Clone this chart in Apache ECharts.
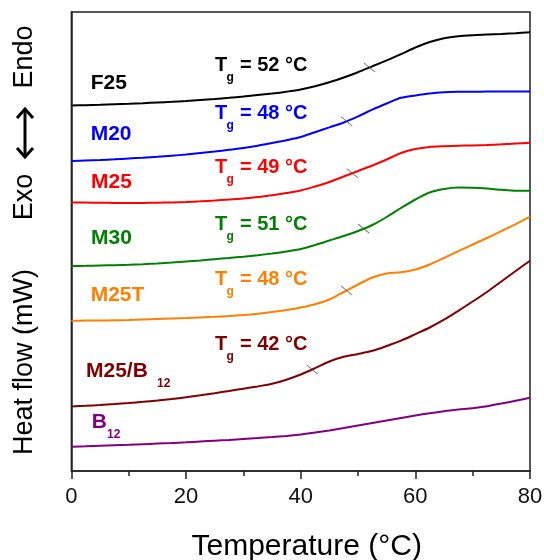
<!DOCTYPE html>
<html><head><meta charset="utf-8">
<script src="https://cdn.jsdelivr.net/npm/echarts@6/dist/echarts.min.js"></script>
<style>html,body{margin:0;padding:0;background:#fff}#c{width:544px;height:560px}</style>
</head><body><div id="c"></div><script>
// Temperature (°C) samples shared by all curves
const temps = [0,2.5,5,7.5,10,12.5,15,17.5,20,22.5,25,27.5,30,32.5,35,37.5,40,42.5,45,47.5,50,52.5,55,57.5,60,62.5,65,67.5,70,72.5,75,77.5,80];
// Heat-flow readings (arbitrary, vertically offset units)
const f25 = [365.5,365.8,366.2,366.7,367.2,367.8,368.5,369.2,370,371,372,373.2,374.5,376,377.5,379.3,381.5,384.7,388.7,393.5,398.8,404.7,410.6,416.8,423.5,429,432.8,434.8,435.8,436.4,437,437.8,438.7];
const m20 = [310,310.5,311,311.7,312.5,313.3,314.2,315.3,316.5,318,319.5,321.2,323,325.3,328,330.8,334,338.8,343.6,348.5,354.6,361.4,367.5,373.2,375.6,377.6,378.8,379.2,379.3,379.4,379.5,379.5,379.5];
const m25 = [268.5,268.4,268.2,268.1,268,268.1,268.3,268.6,269,269.7,270.5,271.4,272.5,274,275.7,277.9,280.5,284.5,289,294.5,300,305.5,311.5,318,322,324,324.8,325.3,325.6,326,326.7,327.5,328.3];
const m30 = [205,205.2,205.5,205.8,206.2,206.8,207.5,208.4,209.5,210.6,211.8,213,214.3,215.8,217.5,219.5,222,226,230.5,235,240,246,254,263,271.5,278.5,282,283.5,283.3,282.5,281.2,280.3,280.3];
const m25t = [150.3,150.4,150.5,150.7,151,151.5,152,152.5,153,153.6,154.2,155,156,157.3,159,161,163.5,166.8,171.5,179,186.5,193.5,197.5,198.8,201.5,206.5,213,219.8,226.5,233,239.8,246.8,254.3];
const m25b12 = [64.5,65.2,66,66.9,68,69.2,70.5,72,73.7,75.7,77.8,80,82.3,84.6,87.2,91.3,96.5,102.8,109.5,114.2,117,120.2,125,130.3,136.8,143.5,151.3,160.2,169.5,179,189.5,200,210.3];
const b12 = [24.3,24.7,25.2,25.7,26.2,26.8,27.4,28,28.7,29.5,30.3,31.1,32,32.9,33.9,35.1,36.6,38.4,40.5,42.9,45.5,48,50.5,53,55.5,57.8,59.8,61.4,62.8,64.8,67.4,70.3,73.3];

const names = ['F25','M20','M25','M30','M25T','M25/B12','B12'];
const colors = ['#000000','#0000ff','#ff0000','#008000','#ff8000','#800000','#800080'];
const tgValues = [52,48,49,51,48,42,null];
const xTicks = [0,20,40,60,80];

const curves = [f25,m20,m25,m30,m25t,m25b12,b12];

function interp(Y, t){
  for (let i=0;i<temps.length-1;i++){
    if (t>=temps[i] && t<=temps[i+1]){ const f=(t-temps[i])/(temps[i+1]-temps[i]); return Y[i]+f*(Y[i+1]-Y[i]); }
  }
  return Y[Y.length-1];
}

const FONT = 'Arial, "Liberation Sans", sans-serif';
const series = curves.map((Y,i)=>({
  name: names[i], type:'line', showSymbol:false, smooth:0.3,
  lineStyle:{color:colors[i], width:2}, itemStyle:{color:colors[i]},
  data: temps.map((t,j)=>[t,Y[j]]), z:2
}));
const tickData = [];
tgValues.forEach((tg,i)=>{ if(tg!==null) tickData.push([tg, interp(curves[i],tg)]); });
series.push({
  type:'scatter', data:tickData, symbol:'path://M0 0 L10 8', symbolSize:[11,9],
  itemStyle:{color:'rgba(0,0,0,0)', borderColor:'#555', borderWidth:1}, z:3, silent:true
});

function lab(x,y,main,sub,subDx,color,rest,restDx,size){
  size = size || 21;
  const ch=[{type:'text', x:0, y:0, style:{text:main, font:'bold '+size+'px '+FONT, fill:color, verticalAlign:'middle'}}];
  if(sub) ch.push({type:'text', x:subDx, y:12.5, style:{text:sub, font:'bold 12px '+FONT, fill:color, verticalAlign:'middle'}});
  if(rest) ch.push({type:'text', x:restDx, y:0, style:{text:rest, font:'bold '+size+'px '+FONT, fill:color, verticalAlign:'middle'}});
  return {type:'group', x:x, y:y, children:ch};
}
const arrowStyle = {stroke:'#000', lineWidth:3, fill:null, lineJoin:'miter'};
const graphics = [
  lab(90.7,82.8,'F25',null,0,colors[0]),
  lab(90.7,134.3,'M20',null,0,colors[1]),
  lab(91,182,'M25',null,0,colors[2]),
  lab(91,238,'M30',null,0,colors[3]),
  lab(90.7,295,'M25T',null,0,colors[4]),
  lab(86,371.5,'M25/B','12',71,colors[5]),
  lab(91.7,422.5,'B','12',15.3,colors[6]),
  lab(215,65,'T','g',11.5,colors[0],'= 52 °C',25,20),
  lab(215,113,'T','g',11.5,colors[1],'= 48 °C',25,20),
  lab(215,167.5,'T','g',11.5,colors[2],'= 49 °C',25,20),
  lab(215,224,'T','g',11.5,colors[3],'= 51 °C',25,20),
  lab(215,279,'T','g',11.5,colors[4],'= 48 °C',25,20),
  lab(215,344,'T','g',11.5,colors[5],'= 42 °C',25,20),
  {type:'text', x:25, y:362, rotation:Math.PI/2, style:{text:'Heat flow (mW)', font:'27px '+FONT, fill:'#000', align:'center', verticalAlign:'middle'}},
  {type:'text', x:25, y:57, rotation:Math.PI/2, style:{text:'Endo', font:'27px '+FONT, fill:'#000', align:'center', verticalAlign:'middle'}},
  {type:'group', x:25, y:133, children:[
    {type:'line', shape:{x1:0, y1:-23, x2:0, y2:23}, style:arrowStyle},
    {type:'polyline', shape:{points:[[-8,-15],[0,-24],[8,-15]]}, style:arrowStyle},
    {type:'polyline', shape:{points:[[-8,15],[0,24],[8,15]]}, style:arrowStyle}
  ]},
  {type:'text', x:25, y:197, rotation:Math.PI/2, style:{text:'Exo', font:'27px '+FONT, fill:'#000', align:'center', verticalAlign:'middle'}}
];

const chart = echarts.init(document.getElementById('c'), null, {renderer:'canvas'});
chart.setOption({
  animation:false,
  backgroundColor:'#fff',
  grid:{left:71.4, right:14, top:12, bottom:89, outerBoundsMode:'none', containLabel:false,
        show:true, borderColor:'#222', borderWidth:1.5, backgroundColor:'transparent'},
  xAxis:{
    type:'value', min:xTicks[0], max:xTicks[xTicks.length-1], interval:20,
    name:'Temperature (°C)', nameLocation:'middle', nameGap:61,
    nameTextStyle:{fontSize:30, fontFamily:FONT, color:'#000', padding:[0,0,0,12]},
    axisLine:{show:true, lineStyle:{color:'#222', width:1.5}},
    axisTick:{show:true, length:8, lineStyle:{color:'#222', width:1.5}},
    minorTick:{show:true, splitNumber:2, length:5, lineStyle:{color:'#222', width:1.5}},
    axisLabel:{fontSize:22, fontFamily:FONT, color:'#111', margin:15},
    splitLine:{show:false}
  },
  yAxis:{
    type:'value', min:0, max:459,
    axisLine:{show:true, lineStyle:{color:'#222', width:1.5}},
    axisTick:{show:false}, axisLabel:{show:false}, splitLine:{show:false}
  },
  series: series,
  graphic: graphics
});
</script></body></html>
